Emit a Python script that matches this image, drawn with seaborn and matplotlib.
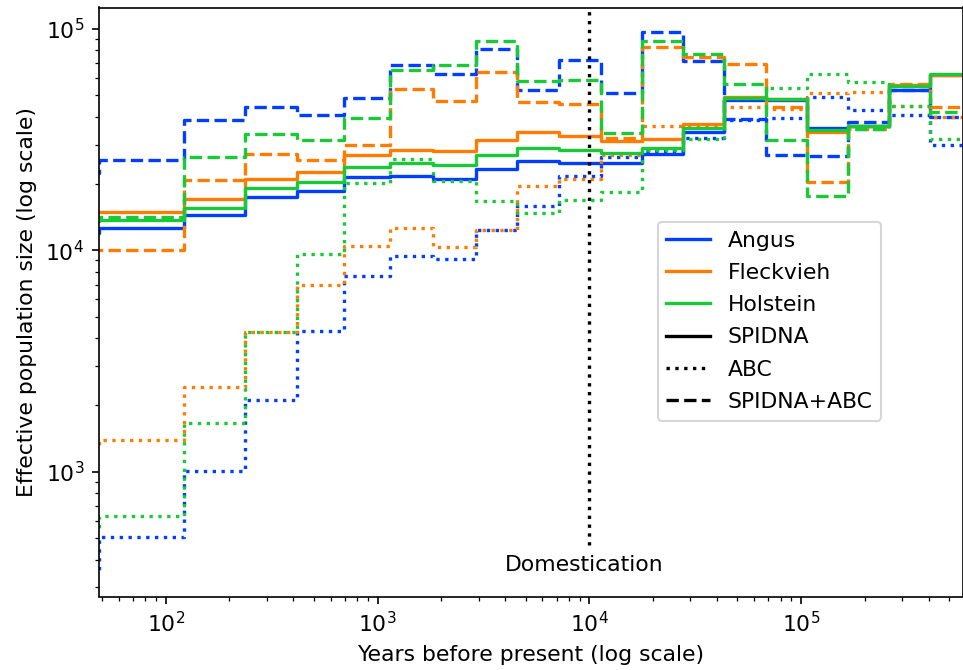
import numpy as np
import pandas as pd
import matplotlib
matplotlib.use("Agg")
import matplotlib.pyplot as plt
from matplotlib.lines import Line2D
import seaborn as sns

# ---- data ----
breeds = ["Angus", "Fleckvieh", "Holstein"]
methods = ["SPIDNA", "ABC", "SPIDNA+ABC"]

# start of each time window (years before present); last entry closes the final window
time_edges = [30, 48.6, 122, 236, 416, 693, 1143, 1825, 2913, 4549, 7182,
              11350, 17710, 27660, 43230, 68260, 106600, 166700, 260300, 406500,
              700000]

angus_spidna = [12000, 12590, 14370, 17380, 18430, 21400, 21540, 21020, 23330, 25170,
                24830, 24830, 27270, 34160, 47800, 47500, 35620, 36360, 52690, 62000]
fleckvieh_spidna = [14870, 14870, 17080, 21040, 22540, 26990, 28430, 28040, 31540, 34160,
                    32650, 30990, 31640, 37240, 49000, 48200, 34160, 36500, 55500, 61600]
holstein_spidna = [13600, 13630, 15560, 19090, 20310, 23740, 24830, 24320, 26790, 29020,
                   28220, 27470, 28930, 35620, 48640, 47970, 35000, 36360, 55100, 62650]

angus_abc = [360, 509, 1010, 2114, 4330, 7640, 9380, 9155, 12380, 15840,
             21630, 26340, 27930, 32190, 38800, 39520, 49450, 42800, 40610, 30000]
fleckvieh_abc = [1320, 1385, 2403, 4272, 6935, 10440, 12590, 10330, 12380, 19480,
                 20870, 27000, 36230, 36500, 44310, 43500, 51400, 51800, 44770, 40000]
holstein_abc = [557, 629, 1665, 4272, 9643, 20110, 25880, 20590, 16680, 14720,
                16930, 18310, 28500, 31880, 48600, 53980, 62180, 57460, 44770, 31880]

angus_combined = [22400, 25430, 38550, 44310, 40610, 48640, 68780, 62650, 80670, 53040,
                  72450, 51400, 96600, 71210, 39250, 26990, 26620, 37900, 53000, 40010]
fleckvieh_combined = [9980, 9980, 20670, 27280, 25440, 29740, 53580, 46970, 63750, 46680,
                      45850, 32190, 82650, 74480, 69010, 44310, 20310, 35360, 56400, 44310]
holstein_combined = [14120, 14120, 26340, 33570, 31320, 39640, 65310, 68320, 87950, 58040,
                     58440, 33810, 87660, 77120, 56070, 31320, 17560, 35360, 55000, 42070]

domestication_year = 1e4

series = {
    ("Angus", "SPIDNA"): angus_spidna,
    ("Angus", "ABC"): angus_abc,
    ("Angus", "SPIDNA+ABC"): angus_combined,
    ("Fleckvieh", "SPIDNA"): fleckvieh_spidna,
    ("Fleckvieh", "ABC"): fleckvieh_abc,
    ("Fleckvieh", "SPIDNA+ABC"): fleckvieh_combined,
    ("Holstein", "SPIDNA"): holstein_spidna,
    ("Holstein", "ABC"): holstein_abc,
    ("Holstein", "SPIDNA+ABC"): holstein_combined,
}

rows = []
for (breed, method), vals in series.items():
    vals_ext = list(vals) + [vals[-1]]  # repeat last value to close the final step
    for t, v in zip(time_edges, vals_ext):
        rows.append({"time": t, "Ne": v, "breed": breed, "method": method})
df = pd.DataFrame(rows)

palette = dict(zip(breeds, sns.color_palette("bright")[:3]))
dashes = {"SPIDNA": "", "ABC": (1, 1.65), "SPIDNA+ABC": (3.7, 1.6)}

FS = 10.5
LW = 1.6
plt.rcParams["font.family"] = ["DejaVu Sans"]
plt.rcParams["font.size"] = FS

fig = plt.figure(figsize=(963 / 150, 670 / 150), dpi=150)
ax = fig.add_axes([98.8 / 963, 1 - 596.5 / 670, (963 - 98.8) / 963 - 0.0005, (596.5 - 7.5) / 670])

sns.lineplot(data=df, x="time", y="Ne", hue="breed", style="method",
             hue_order=breeds, style_order=methods, palette=palette, dashes=dashes,
             drawstyle="steps-post", estimator=None, legend=False, linewidth=LW, ax=ax)

ax.set_xscale("log")
ax.set_yscale("log")
ax.set_xlim(48.3, 578000)
ax.set_ylim(273, 124800)

ax.vlines(domestication_year, 468, 2e5, colors="black", linestyles=":", linewidth=LW)
ax.annotate("Domestication", xy=(domestication_year, 380), xytext=(-2.5, 0),
            textcoords="offset points", ha="center", va="center", fontsize=FS)

ax.set_xlabel("Years before present (log scale)", fontsize=FS)
ax.set_ylabel("Effective population size (log scale)", fontsize=FS)
ax.tick_params(labelsize=FS)

handles = [Line2D([], [], color=palette[b], lw=LW) for b in breeds]
handles += [Line2D([], [], color="black", lw=LW, linestyle="-"),
            Line2D([], [], color="black", lw=LW, linestyle=":"),
            Line2D([], [], color="black", lw=LW, linestyle="--")]
labels = breeds + methods
ax.legend(handles, labels, loc="upper left", bbox_to_anchor=(0.647, 0.636),
          borderaxespad=0, fontsize=FS, labelspacing=0.56)

fig.savefig("out.png", dpi=150)
